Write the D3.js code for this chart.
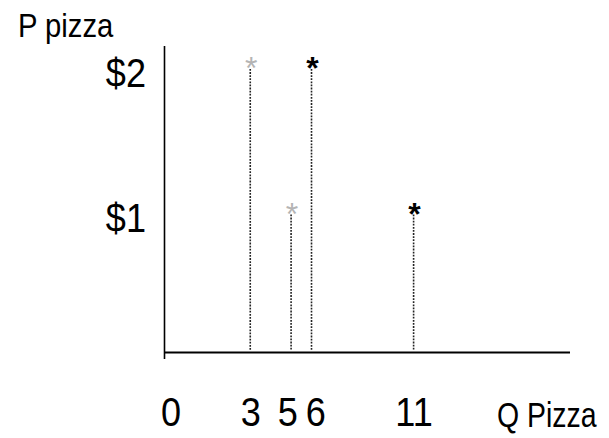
<!DOCTYPE html>
<html>
<head>
<meta charset="utf-8">
<script src="https://cdn.jsdelivr.net/npm/d3@7"></script>
<style>
  html, body { margin: 0; padding: 0; background: #fff; }
  svg { display: block; }
  text { font-family: "Liberation Sans", Arial, Helvetica, sans-serif; fill: #000; }
</style>
</head>
<body>
<svg id="chart" width="609" height="438"></svg>
<script>
// Quantity of pizza demanded at each price, for two demand schedules
const prices = [2, 1];
const qtyOld = [3, 5];     // grey schedule
const qtyNew = [6, 11];    // black schedule
const qTicks = [0, 3, 5, 6, 11];
const pTicks = [1, 2];
const xTitle = "Q Pizza";
const yTitle = "P pizza";

const svg = d3.select("#chart");

// plot frame
const frame = { left: 164, right: 570, top: 46, bottom: 352 };

const x = d3.scaleLinear().domain([0, 11]).range([189, 413.6]);
const y = d3.scaleLinear().domain([0, 2]).range([frame.bottom, 61]);

// axis lines
svg.append("line")
  .attr("x1", frame.left + 0.5).attr("x2", frame.left + 0.5)
  .attr("y1", frame.top).attr("y2", frame.bottom + 7)
  .attr("stroke", "#000").attr("stroke-width", 1.6);
svg.append("line")
  .attr("x1", frame.left).attr("x2", frame.right)
  .attr("y1", frame.bottom + 0.5).attr("y2", frame.bottom + 0.5)
  .attr("stroke", "#000").attr("stroke-width", 2);

// quantity labels
const gx = svg.append("g")
  .attr("transform", `translate(0,${frame.bottom})`)
  .call(d3.axisBottom(x).tickValues(qTicks).tickSize(0).tickFormat(d3.format("d")));
gx.select(".domain").remove();

// spread apart labels that would run into each other
const minGap = 28;
const shift = new Map(qTicks.map(d => [d, 0]));
const sorted = qTicks.slice().sort((a, b) => a - b);
for (let i = 1; i < sorted.length; i++) {
  const a = sorted[i - 1], b = sorted[i];
  if (a === 0) continue;
  const gap = (x(b) + shift.get(b)) - (x(a) + shift.get(a));
  if (gap < minGap) {
    const push = (minGap - gap) / 2;
    shift.set(a, shift.get(a) - push);
    shift.set(b, shift.get(b) + push);
  }
}

gx.selectAll(".tick text")
  .attr("y", 0).attr("dy", 0)
  .attr("transform", d => `translate(${shift.get(d)},74) scale(0.88,1)`)
  .style("font-size", "41px")
  .style("font-family", "'Liberation Sans', Arial, sans-serif")
  .attr("fill", "#000");
// the zero sits at the origin corner
gx.selectAll(".tick").filter(d => d === 0)
  .attr("transform", `translate(${frame.left + 7},0)`);

// price labels
const gy = svg.append("g")
  .attr("transform", "translate(146,0)")
  .call(d3.axisLeft(y).tickValues(pTicks).tickSize(0).tickPadding(0).tickFormat(d => "$" + d));
gy.select(".domain").remove();
gy.selectAll(".tick text")
  .attr("x", 0).attr("y", 0).attr("dy", 0)
  .attr("transform", "translate(0,25) scale(0.88,1)")
  .style("font-size", "41px")
  .style("font-family", "'Liberation Sans', Arial, sans-serif")
  .attr("fill", "#000");

// axis titles
svg.append("text")
  .attr("transform", "translate(18,37) scale(0.9,1)")
  .style("font-size", "32.5px")
  .text(yTitle);
svg.append("text")
  .attr("transform", "translate(497,427) scale(0.79,1)")
  .style("font-size", "36px")
  .text(xTitle);

// demand points with dotted drop lines
const series = [
  { qty: qtyOld, color: "#b4b4b4", weight: "normal" },
  { qty: qtyNew, color: "#000", weight: "bold" }
];

series.forEach(s => {
  const pts = prices.map((p, i) => ({ p, q: s.qty[i] }));
  const g = svg.append("g");
  g.selectAll("line")
    .data(pts)
    .join("line")
    .attr("x1", d => x(d.q)).attr("x2", d => x(d.q))
    .attr("y1", d => y(d.p) + 8).attr("y2", y(0) - 2)
    .attr("stroke", "#222")
    .attr("stroke-width", 1.6)
    .attr("stroke-dasharray", "1.8,1.3");
  g.selectAll("text")
    .data(pts)
    .join("text")
    .attr("x", d => x(d.q) + 1)
    .attr("y", d => y(d.p) + 18)
    .attr("text-anchor", "middle")
    .style("font-size", "32px")
    .style("font-weight", s.weight)
    .style("fill", s.color)
    .text("*");
});
</script>
</body>
</html>
